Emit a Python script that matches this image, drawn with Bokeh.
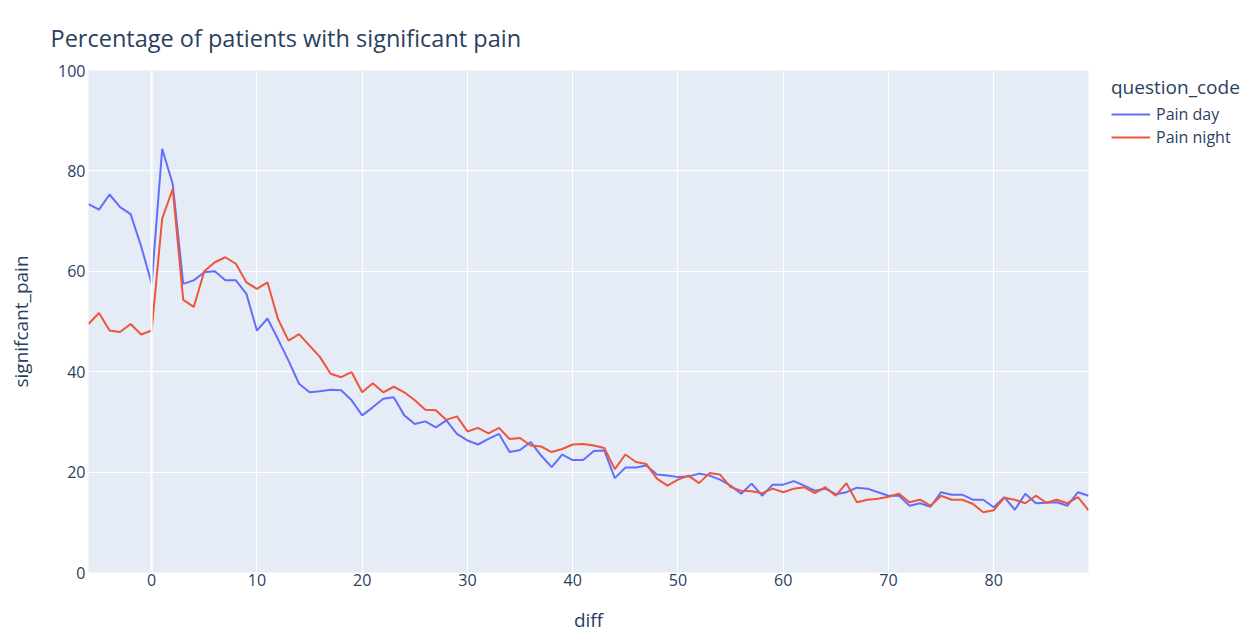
from bokeh.plotting import figure
from bokeh.models import Range1d, Legend, LegendItem, FixedTicker, Span, ColumnDataSource, Title
from bokeh.embed import file_html
from bokeh.resources import INLINE

diff = list(range(-6, 90))

pain_day = [73.4, 72.3, 75.3, 72.8, 71.4, 65.0, 57.5, 84.4, 77.4, 57.5,
            58.2, 59.8, 60.0, 58.2, 58.2, 55.5, 48.2, 50.6, 46.5, 42.2,
            37.6, 35.9, 36.1, 36.4, 36.3, 34.3, 31.3, 32.9, 34.6, 34.9,
            31.3, 29.6, 30.1, 28.9, 30.3, 27.6, 26.3, 25.5, 26.6, 27.6,
            24.0, 24.4, 26.0, 23.3, 21.0, 23.5, 22.4, 22.4, 24.2, 24.3,
            18.8, 20.9, 20.9, 21.3, 19.5, 19.3, 19.0, 19.1, 19.7, 19.3,
            18.5, 17.3, 15.7, 17.7, 15.3, 17.5, 17.5, 18.2, 17.3, 16.3,
            16.7, 15.6, 16.0, 16.9, 16.7, 16.0, 15.3, 15.3, 13.3, 13.8,
            13.1, 16.0, 15.5, 15.5, 14.5, 14.5, 13.0, 15.0, 12.5, 15.7,
            13.8, 13.9, 14.0, 13.3, 16.0, 15.3]

pain_night = [49.5, 51.7, 48.2, 47.9, 49.5, 47.4, 48.2, 70.5, 76.4, 54.3,
              52.9, 60.0, 61.8, 62.8, 61.5, 57.8, 56.5, 57.8, 50.5, 46.2,
              47.5, 45.2, 42.9, 39.6, 38.9, 39.9, 35.9, 37.7, 35.9, 37.0,
              35.9, 34.3, 32.4, 32.3, 30.4, 31.1, 28.1, 28.8, 27.7, 28.8,
              26.6, 26.8, 25.3, 25.1, 24.0, 24.6, 25.5, 25.6, 25.3, 24.8,
              20.6, 23.5, 22.0, 21.6, 18.7, 17.3, 18.5, 19.3, 17.8, 19.8,
              19.5, 17.0, 16.3, 16.2, 15.8, 16.7, 16.0, 16.7, 17.0, 15.8,
              17.0, 15.3, 17.8, 14.0, 14.5, 14.7, 15.1, 15.7, 14.0, 14.5,
              13.3, 15.3, 14.5, 14.5, 13.7, 12.0, 12.4, 14.9, 14.5, 13.8,
              15.3, 13.9, 14.5, 13.8, 15.0, 12.4]

series_names = ["Pain day", "Pain night"]
colors = ["#636EFA", "#EF553B"]
x_ticks = [0, 10, 20, 30, 40, 50, 60, 70, 80]
y_ticks = [0, 20, 40, 60, 80, 100]

FONT = "Open Sans"
TXT = "#2a3f5f"

p = figure(frame_width=1000, frame_height=502, output_backend="svg", toolbar_location=None,
           x_range=Range1d(min(diff), max(diff)), y_range=Range1d(0, 100),
           min_border_left=88, min_border_right=165, min_border_top=70, min_border_bottom=61,
           background_fill_color="#E5ECF6", border_fill_color="white", outline_line_color=None)

p.title = Title(text="Percentage of patients with significant pain", text_font=FONT,
                text_font_size="23.5px", text_color=TXT, text_font_style="normal",
                offset=-38, standoff=34)

p.xgrid.grid_line_color = "white"
p.ygrid.grid_line_color = "white"
p.xgrid.grid_line_width = 1
p.ygrid.grid_line_width = 1

p.add_layout(Span(location=0, dimension="height", line_color="white", line_width=2))

xax = p.below[0]
yax = p.left[0]
for ax in (xax, yax):
    ax.axis_line_color = None
    ax.major_tick_line_color = None
    ax.minor_tick_line_color = None
    ax.major_tick_out = 0
    ax.major_tick_in = 0
    ax.minor_tick_out = 0
    ax.major_label_text_font = FONT
    ax.major_label_text_font_size = "16px"
    ax.major_label_text_color = TXT
    ax.axis_label_text_font = FONT
    ax.axis_label_text_font_size = "19px"
    ax.axis_label_text_color = TXT
    ax.axis_label_text_font_style = "normal"

xax.ticker = FixedTicker(ticks=x_ticks)
yax.ticker = FixedTicker(ticks=y_ticks)
xax.axis_label = "diff"
yax.axis_label = "signifcant_pain"
xax.major_label_standoff = 1
yax.major_label_standoff = 3
xax.axis_label_standoff = 18
yax.axis_label_standoff = 21

items = []
for name, ys, c in zip(series_names, [pain_day, pain_night], colors):
    src = ColumnDataSource(dict(x=diff, y=ys))
    r = p.line("x", "y", source=src, line_color=c, line_width=2)
    items.append(LegendItem(label=name, renderers=[r]))

legend = Legend(items=items, title="question_code", location=(23, 424),
                title_text_font=FONT, title_text_font_size="19px", title_text_color=TXT,
                title_text_font_style="normal", title_standoff=3,
                label_text_font=FONT, label_text_font_size="16px", label_text_color=TXT,
                glyph_width=39, glyph_height=20, label_standoff=6, spacing=1,
                padding=0, margin=0, border_line_color=None, background_fill_alpha=0)
p.add_layout(legend, "right")

open("out.html", "w").write(file_html(p, INLINE))
